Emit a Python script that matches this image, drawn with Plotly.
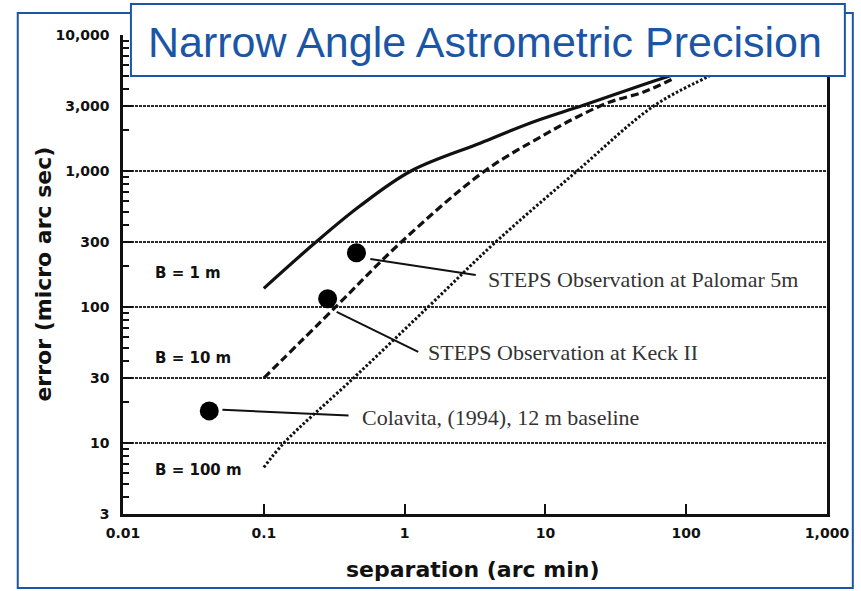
import math
import plotly.graph_objects as go

# ---- data ----
sep_1m = [0.1, 0.226, 0.471, 1.11, 3.47, 7.82, 18.8, 76, 120]
err_1m = [137, 290, 543, 1000, 1607, 2255, 3055, 5000, 5700]

sep_10m = [0.1, 0.324, 0.93, 3.71, 9.8, 16.8, 28.7, 49.9, 80]
err_10m = [30, 100, 295, 1000, 1841, 2495, 3214, 3810, 4750]

sep_100m = [0.1, 0.139, 0.434, 1.47, 4.43, 16.8, 58.7, 146, 200]
err_100m = [6.6, 10, 30, 100, 300, 1000, 3000, 5000, 5900]

obs_names = ["STEPS Observation at Palomar 5m", "STEPS Observation at Keck II",
             "Colavita, (1994), 12 m baseline"]
obs_sep = [0.455, 0.284, 0.041]
obs_err = [250, 115, 17.2]
lead_sep0 = [0.571, 0.329, 0.0508]
lead_err0 = [225, 91.9, 17.5]
lead_sep1 = [3.20, 1.25, 0.40]
lead_err1 = [172, 46.7, 15.9]
text_sep = [3.77, 1.42, 0.486]
text_err = [158, 45.9, 15.5]

baseline_labels = ["B = 1 m", "B = 10 m", "B = 100 m"]
baseline_sep = [0.0163, 0.0163, 0.0163]
baseline_err = [178, 42.2, 6.3]

x_ticks = [0.01, 0.1, 1, 10, 100, 1000]
x_ticktext = ["0.01", "0.1", "1", "10", "100", "1,000"]
y_ticks = [3, 10, 30, 100, 300, 1000, 3000, 10000]
y_ticktext = ["3", "10", "30", "100", "300", "1,000", "3,000", "10,000"]
y_minor = [m * d for d in [1, 10, 100, 1000] for m in [2, 4, 5, 6, 7, 8, 9] if 3 <= m * d <= 10000]

title_text = "Narrow Angle Astrometric Precision"
x_title = "separation (arc min)"
y_title = "error (micro arc sec)"

BLUE = "#1b56a6"
INK = "#111111"

fig = go.Figure()

fig.add_trace(go.Scatter(x=sep_1m, y=err_1m, mode="lines", line_shape="spline",
                         line=dict(color=INK, width=3.2), showlegend=False))
fig.add_trace(go.Scatter(x=sep_10m, y=err_10m, mode="lines", line_shape="spline",
                         line=dict(color=INK, width=3.2, dash="8px,4px"), showlegend=False))
fig.add_trace(go.Scatter(x=sep_100m, y=err_100m, mode="lines", line_shape="spline",
                         line=dict(color=INK, width=3, dash="2.5px,2px"), showlegend=False))

for i in range(len(obs_names)):
    fig.add_trace(go.Scatter(x=[lead_sep0[i], lead_sep1[i]], y=[lead_err0[i], lead_err1[i]],
                             mode="lines", line=dict(color=INK, width=2), showlegend=False))
    fig.add_annotation(x=math.log10(text_sep[i]), y=math.log10(text_err[i]), text=obs_names[i],
                       showarrow=False, xanchor="left", yanchor="middle",
                       font=dict(family="Liberation Serif", size=22, color="#333"))

fig.add_trace(go.Scatter(x=obs_sep, y=obs_err, mode="markers",
                         marker=dict(color="#000", size=19, symbol="circle"), showlegend=False))

for t, xs, ys in zip(baseline_labels, baseline_sep, baseline_err):
    fig.add_annotation(x=math.log10(xs), y=math.log10(ys), text=t, showarrow=False,
                       xanchor="left", yanchor="middle",
                       font=dict(family="DejaVu Sans", size=15, color=INK, weight="bold"))

fig.update_xaxes(type="log", range=[-2, 3], tickvals=x_ticks, ticktext=x_ticktext,
                 ticks="inside", ticklen=10, tickwidth=2, tickcolor=INK,
                 showline=True, linecolor=INK, linewidth=2.5, mirror=False,
                 showgrid=False, zeroline=False, ticklabelstandoff=4,
                 tickfont=dict(family="DejaVu Sans", size=14, color=INK, weight="bold"))
fig.update_yaxes(type="log", range=[math.log10(3), 4], tickvals=y_ticks, ticktext=y_ticktext,
                 ticks="inside", ticklen=10, tickwidth=2, tickcolor=INK,
                 minor=dict(tickvals=y_minor, ticks="inside", ticklen=6, tickwidth=1.5,
                            tickcolor=INK, showgrid=False),
                 showline=True, linecolor=INK, linewidth=2.5, mirror=True,
                 showgrid=True, gridcolor="#2a2a2a", gridwidth=1.5, griddash="3px,1px",
                 zeroline=False, ticklabelstandoff=8,
                 tickfont=dict(family="DejaVu Sans", size=14, color=INK, weight="bold"))

L, R, T, B = 123, 29, 35, 77
W, H = 861, 591
pw, ph = W - L - R, H - T - B


def px(xp):
    return (xp - L) / pw


def py(yp):
    return (H - B - yp) / ph


shapes = [
    dict(type="rect", xref="paper", yref="paper", x0=px(17), x1=px(858), y0=py(588), y1=py(13),
         line=dict(color=BLUE, width=2), fillcolor="rgba(0,0,0,0)", layer="below"),
    dict(type="rect", xref="paper", yref="paper", x0=px(131), x1=px(850), y0=py(76), y1=py(4),
         line=dict(color=BLUE, width=2), fillcolor="white", layer="above"),
]

fig.add_annotation(xref="paper", yref="paper", x=px(488), y=py(42), text=title_text,
                   showarrow=False, xanchor="center", yanchor="middle",
                   font=dict(family="Liberation Sans", size=43, color=BLUE))
fig.add_annotation(xref="paper", yref="paper", x=px(42), y=py(274), text=y_title,
                   showarrow=False, textangle=-90, xanchor="center", yanchor="middle",
                   font=dict(family="DejaVu Sans", size=22, color=INK, weight="bold"))
fig.add_annotation(xref="paper", yref="paper", x=px(475), y=py(569), text=x_title,
                   showarrow=False, xanchor="center", yanchor="middle",
                   font=dict(family="DejaVu Sans", size=22, color=INK, weight="bold"))

fig.update_layout(width=W, height=H, margin=dict(l=L, r=R, t=T, b=B),
                  paper_bgcolor="white", plot_bgcolor="white", shapes=shapes,
                  showlegend=False)

fig.write_html("out.html", config={"displayModeBar": False},
               post_script="document.body.style.margin='0';")
